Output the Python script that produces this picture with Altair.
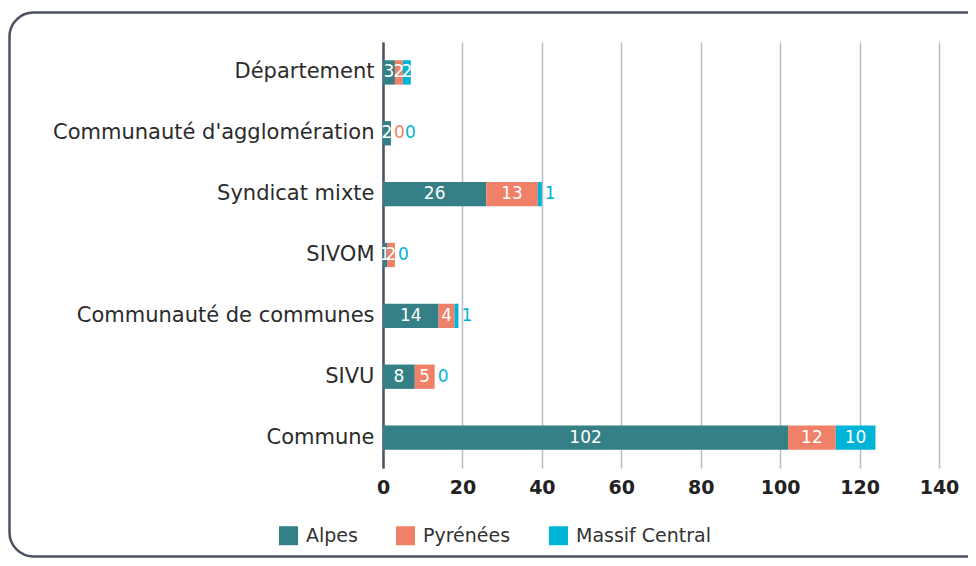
import altair as alt
import pandas as pd

categories = ["Département", "Communauté d'agglomération", "Syndicat mixte", "SIVOM",
              "Communauté de communes", "SIVU", "Commune"]
series = ["Alpes", "Pyrénées", "Massif Central"]
alpes = [3, 2, 26, 1, 14, 8, 102]
pyrenees = [2, 0, 13, 2, 4, 5, 12]
massif = [2, 0, 1, 0, 1, 0, 10]
colors = ["#357f86", "#f08067", "#00b4d8"]
x_ticks = [0, 20, 40, 60, 80, 100, 120, 140]

rows = []
for i, cat in enumerate(categories):
    vals = [alpes[i], pyrenees[i], massif[i]]
    total = sum(vals)
    start = 0
    k = 0
    for j, s in enumerate(series):
        v = vals[j]
        outside = (v == 0) or (s == "Massif Central" and v < 2)
        rows.append({
            "cat": cat, "series": s, "order": j, "value": v,
            "start": start, "end": start + v, "mid": start + v / 2,
            "total": total, "outside": outside, "k": k if outside else -1,
        })
        if outside:
            k += 1
        start += v
df = pd.DataFrame(rows)

FONT = "DejaVu Sans"

y_enc = alt.Y("cat:N", sort=categories, title=None,
              scale=alt.Scale(paddingInner=0.6, paddingOuter=0.3),
              axis=alt.Axis(labelFontSize=21, labelColor="#2b2b2b", labelFont=FONT,
                            labelLimit=500, labelPadding=9, ticks=False,
                            domainColor="#4b5262", domainWidth=2.5, grid=False))
x_scale = alt.Scale(domain=[0, 140], nice=False)
color_scale = alt.Scale(domain=series, range=colors)

base = alt.Chart(df)

bars = base.mark_bar().encode(
    x=alt.X("start:Q", scale=x_scale, title=None,
            axis=alt.Axis(values=x_ticks, labelFontSize=19, labelFont=FONT,
                          labelFontWeight="bold", labelColor="#222222",
                          labelPadding=10, labelFlush=False, ticks=False, domain=False,
                          grid=True, gridColor="#b9bdc9", gridWidth=1.5)),
    x2="end:Q",
    y=y_enc,
    color=alt.Color("series:N", scale=color_scale, sort=series, title=None,
                    legend=alt.Legend(orient="none", legendX=-104, legendY=484,
                                      direction="horizontal", symbolType="square",
                                      symbolSize=361, symbolStrokeWidth=0,
                                      labelFontSize=19, labelFont=FONT,
                                      labelColor="#333333", labelOffset=8,
                                      columnPadding=38, padding=0)),
    order="order:Q",
)

inside = base.transform_filter("!datum.outside").mark_text(
    color="white", fontSize=17, font=FONT, align="center", baseline="middle"
).encode(
    x=alt.X("mid:Q", scale=x_scale),
    y=alt.Y("cat:N", sort=categories),
    text="value:Q",
)

out0 = base.transform_filter("datum.k == 0").mark_text(
    fontSize=17, font=FONT, align="left", baseline="middle", dx=3
).encode(
    x=alt.X("total:Q", scale=x_scale),
    y=alt.Y("cat:N", sort=categories),
    text="value:Q",
    color=alt.Color("series:N", scale=color_scale, legend=None),
)

out1 = base.transform_filter("datum.k == 1").mark_text(
    fontSize=17, font=FONT, align="left", baseline="middle", dx=14
).encode(
    x=alt.X("total:Q", scale=x_scale),
    y=alt.Y("cat:N", sort=categories),
    text="value:Q",
    color=alt.Color("series:N", scale=color_scale, legend=None),
)

frame = alt.Chart(pd.DataFrame({"a": [0]})).mark_rect(
    fill=None, stroke="#4b5262", strokeWidth=2.5, cornerRadius=24
).encode(
    x=alt.value(-373.5), x2=alt.value(650), y=alt.value(-29.5), y2=alt.value(514.5)
)

chart = alt.layer(bars, inside, out0, out1, frame).properties(
    width=556, height=426,
    autosize="none",
    padding={"left": 375, "top": 34, "right": 29, "bottom": 90},
    background="white",
).configure_view(stroke=None)

chart.save("out.html", embed_options={"renderer": "svg", "actions": False})
